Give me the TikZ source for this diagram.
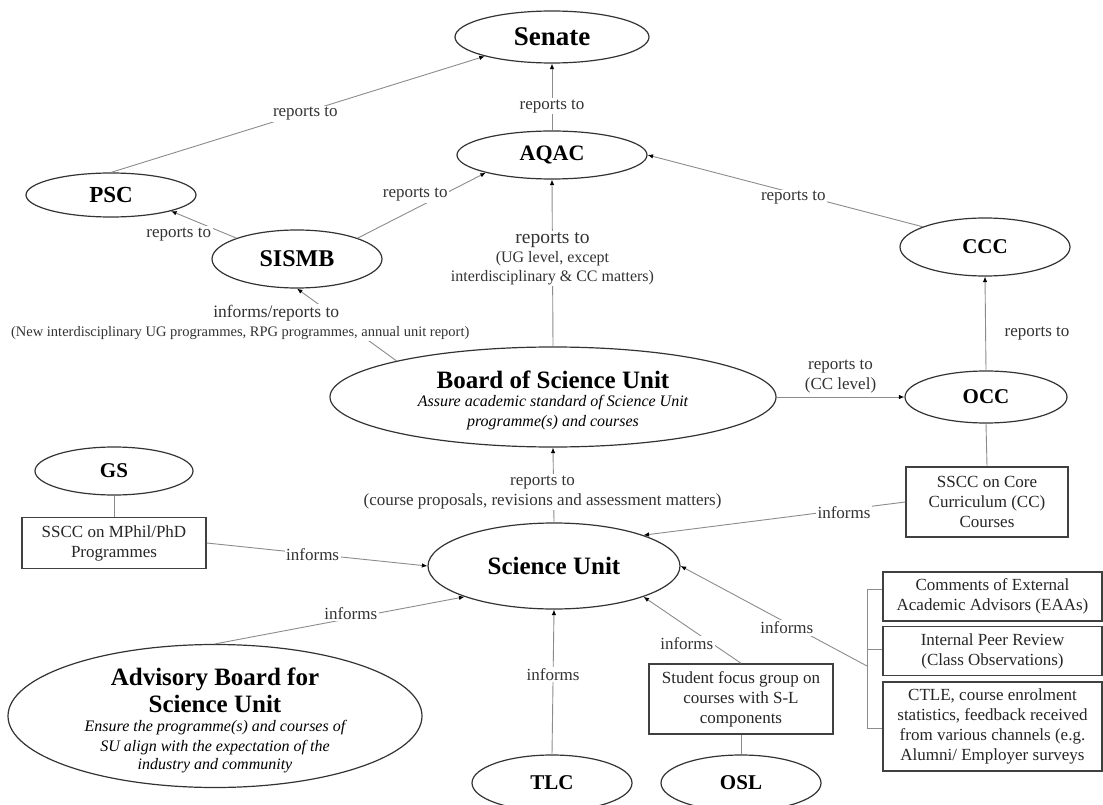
\documentclass[tikz,border=0pt]{standalone}
\usepackage{fontspec}
\setmainfont{Liberation Serif}
\usetikzlibrary{shapes.geometric,arrows.meta}
\begin{document}
\begin{tikzpicture}[x=1pt,y=-1pt,
  ell/.style={ellipse,draw=black!80,line width=1.2pt,inner sep=0pt,fill=white,text=black},
  ttl/.style={font=\fontsize{#1}{#1}\selectfont\bfseries},
  bx/.style={rectangle,draw=black!75,line width=1.5pt,inner sep=0pt,fill=white,align=center,text=black!85,font=\fontsize{17}{20}\selectfont},
  conn/.style={draw=black!45,line width=0.9pt},
  arr/.style={conn,-{Latex[length=5.5pt,width=4.5pt,color=black]}},
  lbl/.style={fill=white,inner sep=1.5pt,text=black!80,font=\fontsize{17}{20}\selectfont,align=center,yshift=-2pt},
]
\useasboundingbox (0,0) rectangle (1103,805);
\fill[white] (0,0) rectangle (1103,805);
\clip (0,0) rectangle (1103,805);

% ---------- nodes ----------
\node[ell,minimum width=194pt,minimum height=52pt,ttl=27] (senate) at (552,37) {Senate};
\node[ell,minimum width=190pt,minimum height=48pt,ttl=22] (aqac) at (552,155) {AQAC};
\node[ell,minimum width=170pt,minimum height=44pt,ttl=23] (psc) at (111,195) {PSC};
\node[ell,minimum width=170pt,minimum height=58pt,ttl=24] (sismb) at (297,259) {SISMB};
\node[ell,minimum width=170pt,minimum height=58pt,ttl=21] (ccc) at (985,247) {CCC};
\node[ell,minimum width=446pt,minimum height=100pt,align=center,font=\fontsize{16}{20}\selectfont\itshape] (board) at (553,397)
  {{\fontsize{25}{27}\selectfont\upshape\bfseries\rule{0pt}{24.5pt}Board of Science Unit}\\[-2pt]
   Assure academic standard of Science Unit\\
   programme(s) and courses};
\node[ell,minimum width=162pt,minimum height=52pt,ttl=21] (occ) at (986,397) {OCC};
\node[bx,minimum width=162pt,minimum height=70pt] (sscccc) at (987,502) {SSCC on Core\\Curriculum (CC)\\Courses};
\node[ell,minimum width=158pt,minimum height=48pt,ttl=21] (gs) at (114,471) {GS};
\node[bx,minimum width=184pt,minimum height=51pt] (mphil) at (114,543) {SSCC on MPhil/PhD\\Programmes};
\node[ell,minimum width=252pt,minimum height=86pt,ttl=25] (su) at (554,566) {Science Unit};
\node[ell,minimum width=414pt,minimum height=143pt,align=center,inner ysep=-7pt,font=\fontsize{16}{20}\selectfont\itshape] (adv) at (215,716)
  {{\fontsize{25}{27}\selectfont\upshape\bfseries\rule{0pt}{26pt}Advisory Board for}\\[3.6pt]
   {\fontsize{25}{27}\selectfont\upshape\bfseries Science Unit}\\[-1.5pt]
   Ensure the programme(s) and courses of\\
   SU align with the expectation of the\\[-2pt]
   industry and community};
\node[ell,minimum width=160pt,minimum height=56pt,ttl=21] (tlc) at (552,783) {TLC};
\node[ell,minimum width=160pt,minimum height=56pt,ttl=21] (osl) at (741,783) {OSL};
\node[bx,minimum width=184pt,minimum height=70pt] (focus) at (741,699) {Student focus group on\\courses with S-L\\components};
\node[bx,minimum width=219pt,minimum height=49pt] (eaa) at (992.5,596.5) {Comments of External\\Academic Advisors (EAAs)};
\node[bx,minimum width=219pt,minimum height=49pt] (peer) at (992.5,651) {Internal Peer Review\\(Class Observations)};
\node[bx,minimum width=219pt,minimum height=89pt] (ctle) at (992.5,726.5) {CTLE, course enrolment\\statistics, feedback received\\from various channels (e.g.\\Alumni/ Employer surveys};

% ---------- bracket ----------
\coordinate (bt) at (867,589);
\coordinate (bm) at (867,649);
\coordinate (bb) at (867,728);
\coordinate (j) at (867,666);
\draw[conn] (bt) -- (bb);
\draw[conn] (bt) -- (bt -| eaa.west);
\draw[conn] (bm) -- (bm -| peer.west);
\draw[conn] (bb) -- (bb -| ctle.west);

% ---------- connectors ----------
\draw[arr] (psc.north) -- node[lbl,pos=0.52] {reports to} (senate.196);
\draw[arr] (sismb.161) -- node[lbl,pos=0.5,xshift=-25pt,yshift=-7.5pt] {reports to} (psc.345);
\draw[arr] (sismb.19) -- node[lbl,pos=0.5,xshift=-6.5pt,yshift=13pt] {reports to} (aqac.195);
\draw[arr] (aqac.north) -- node[lbl,pos=0.39] {reports to} (senate.south);
\draw[arr] (ccc.162) -- node[lbl,pos=0.47,yshift=-3pt] {reports to} (aqac.east);
\draw[arr] (board.north) -- node[lbl,pos=0.54,font=\fontsize{16}{19}\selectfont]
  {{\fontsize{19.5}{20}\selectfont reports to}\\(UG level, except\\interdisciplinary \& CC matters)} (aqac.south);
\draw[arr] (board.167) -- node[lbl,pos=0.5,xshift=-106.5pt,yshift=4.5pt,font=\fontsize{14.5}{19}\selectfont]
  {{\fontsize{17.5}{19}\selectfont\hspace*{72pt}informs/reports to}\\(New interdisciplinary UG programmes, RPG programmes, annual unit report)} (sismb.south);
\draw[arr] (board.east) -- node[lbl,pos=0.5,yshift=22.5pt] {reports to\\(CC level)} (occ.west);
\draw[arr] (occ.north) -- node[lbl,pos=0.5,xshift=51.5pt,yshift=-8pt] {reports to} (ccc.south);
\draw[arr] (su.north) -- node[lbl,pos=0.43,xshift=-11pt] {reports to\\(course proposals, revisions and assessment matters)} (board.south);
\draw[arr] (sscccc.west) -- node[lbl,pos=0.234,yshift=-1pt] {informs} (su.19);
\draw[conn] (sscccc.north) -- (occ.south);
\draw[conn] (gs.south) -- (mphil.north);
\draw[arr] (mphil.east) -- node[lbl,pos=0.48,yshift=1pt] {informs} (su.west);
\draw[arr] (adv.north) -- node[lbl,pos=0.544,yshift=7pt] {informs} (su.199);
\draw[arr] (tlc.north) -- node[lbl,pos=0.55,yshift=2pt] {informs} (su.south);
\draw[arr] (focus.north) -- node[lbl,pos=0.31,xshift=-24pt,yshift=1pt] {informs} (su.341);
\draw[conn] (osl.north) -- (focus.south);
\draw[arr] (j) -- node[lbl,pos=0.43,yshift=-3pt] {informs} (su.east);
\end{tikzpicture}
\end{document}
